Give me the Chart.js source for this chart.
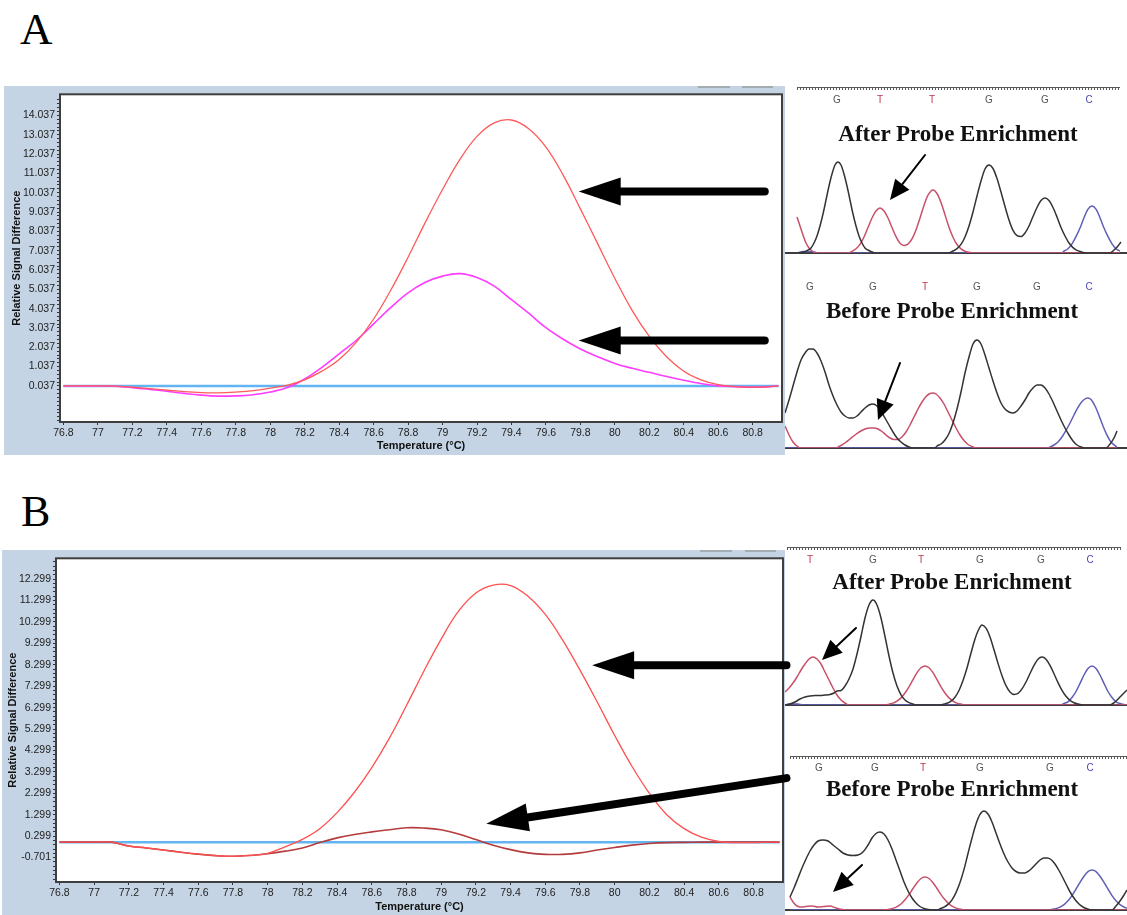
<!DOCTYPE html>
<html>
<head>
<meta charset="utf-8">
<script src="https://cdn.jsdelivr.net/npm/chart.js@4.4.0/dist/chart.umd.min.js"></script>
<style>
  body { margin: 0; width: 1127px; height: 915px; background: #fff; position: relative; overflow: hidden; }
  canvas { position: absolute; }
  .lbl { position: absolute; font-family: 'Liberation Serif', 'Times New Roman', serif; line-height: 1; color: #000; }
  .ttl { position: absolute; font: bold 23px 'Liberation Serif', 'Times New Roman', serif; line-height: 1; color: #111; white-space: nowrap; transform: translateX(-50%); }
  .tab { position: absolute; height: 2px; background: #a3abb3; }
</style>
</head>
<body>
<div class="lbl" style="left:20px;top:7px;font-size:45px;">A</div>
<div class="lbl" style="left:21px;top:490px;font-size:44px;">B</div>

<canvas id="meltA" width="781" height="369" style="left:4px;top:86px;"></canvas>
<canvas id="meltB" width="790" height="365" style="left:2px;top:550px;"></canvas>
<div class="tab" style="left:698px;top:86px;width:32px;"></div>
<div class="tab" style="left:742px;top:86px;width:31px;"></div>
<div class="tab" style="left:700px;top:550px;width:32px;"></div>
<div class="tab" style="left:745px;top:550px;width:31px;"></div>

<canvas id="seqAfterA" width="342" height="173" style="left:785px;top:82px;"></canvas>
<canvas id="seqBeforeA" width="342" height="181" style="left:785px;top:269px;"></canvas>
<canvas id="seqAfterB" width="342" height="165" style="left:785px;top:542px;"></canvas>
<canvas id="seqBeforeB" width="342" height="162" style="left:785px;top:750px;"></canvas>

<div class="ttl" style="left:958px;top:122px;">After Probe Enrichment</div>
<div class="ttl" style="left:952px;top:299px;">Before Probe Enrichment</div>
<div class="ttl" style="left:952px;top:570px;">After Probe Enrichment</div>
<div class="ttl" style="left:952px;top:777px;">Before Probe Enrichment</div>

<script>
// ---- melt curve data (temperature in °C, relative signal difference) ----
const temps = [76.8, 76.9, 77.0, 77.1, 77.2, 77.3, 77.4, 77.5, 77.6, 77.7,
  77.8, 77.9, 78.0, 78.1, 78.2, 78.3, 78.4, 78.5, 78.6, 78.7,
  78.8, 78.9, 79.0, 79.1, 79.2, 79.3, 79.4, 79.5, 79.6, 79.7,
  79.8, 79.9, 80.0, 80.1, 80.2, 80.3, 80.4, 80.5, 80.6, 80.7,
  80.8, 80.9, 80.95];

const redA = [0.037, 0.037, 0.037, 0.03, -0.03, -0.10, -0.18, -0.26, -0.31, -0.32,
  -0.28, -0.21, -0.08, 0.08, 0.35, 0.8, 1.4, 2.3, 3.5, 5.0,
  6.7, 8.5, 10.2, 11.75, 12.95, 13.65, 13.8, 13.35, 12.4, 10.95,
  9.2, 7.4, 5.6, 3.95, 2.6, 1.55, 0.8, 0.35, 0.1, 0.0,
  -0.03, 0.0, 0.05];

const magentaA = [0.037, 0.037, 0.037, 0.02, -0.05, -0.14, -0.24, -0.35, -0.44, -0.49,
  -0.48, -0.42, -0.28, -0.05, 0.4, 1.0, 1.7, 2.4, 3.25, 4.1,
  4.85, 5.4, 5.72, 5.85, 5.65, 5.2, 4.5, 3.8, 3.05, 2.45,
  1.95, 1.55, 1.2, 0.95, 0.74, 0.52, 0.33, 0.16, 0.04, 0.0,
  -0.03, 0.0, 0.05];

const redB = [0.02, 0.02, 0.02, 0.02, -0.16, -0.25, -0.35, -0.45, -0.54, -0.61,
  -0.64, -0.6, -0.5, -0.2, 0.15, 0.65, 1.4, 2.35, 3.5, 4.85,
  6.4, 8.0, 9.5, 10.8, 11.65, 12.02, 12.0, 11.5, 10.65, 9.45,
  8.05, 6.55, 5.0, 3.55, 2.3, 1.3, 0.65, 0.25, 0.05, 0.0,
  0.0, 0.02, 0.02];

const darkRedB = [0.02, 0.02, 0.02, 0.02, -0.16, -0.25, -0.35, -0.45, -0.54, -0.61,
  -0.64, -0.6, -0.52, -0.4, -0.25, 0.0, 0.22, 0.38, 0.5, 0.6,
  0.69, 0.68, 0.6, 0.4, 0.14, -0.12, -0.33, -0.48, -0.55, -0.55,
  -0.48, -0.35, -0.23, -0.12, -0.04, 0.0, 0.01, 0.02, 0.02, 0.02,
  0.02, 0.02, 0.02];

const baseLineA = 0.037;
const baseLineB = 0.02;

const xTicks = [76.8, 77, 77.2, 77.4, 77.6, 77.8, 78, 78.2, 78.4, 78.6, 78.8,
  79, 79.2, 79.4, 79.6, 79.8, 80, 80.2, 80.4, 80.6, 80.8];
const yTicksA = [0.037, 1.037, 2.037, 3.037, 4.037, 5.037, 6.037, 7.037,
  8.037, 9.037, 10.037, 11.037, 12.037, 13.037, 14.037];
const yTicksB = [-0.701, 0.299, 1.299, 2.299, 3.299, 4.299, 5.299, 6.299,
  7.299, 8.299, 9.299, 10.299, 11.299, 12.299];

// arrows pointing at the curves (data coordinates)
const arrowsA = [
  { x1: 80.87, y1: 10.1, x2: 79.79, y2: 10.1 },
  { x1: 80.87, y1: 2.39, x2: 79.79, y2: 2.39 }
];
const arrowsB = [
  { x1: 80.99, y1: 8.28, x2: 79.87, y2: 8.28 },
  { x1: 80.99, y1: 3.01, x2: 79.26, y2: 0.88 }
];

// ---- sequencing traces: [scan position, signal] ----
const afterA_black = [[797,0],[804,1],[808,3],[811,5],[814,10],[817,17],[820,27],[823,39],[826,53],[829,67],
  [832,79],[835,88],[838,91],[841,88],[844,79],[847,67],[850,53],[853,39],[856,27],[859,17],[862,10],
  [865,5],[868,3],[872,1],[876,0],[948,0],[953,2],[957,4.3],[961,8.6],[965,16],[969,27],[973,41],[977,57],
  [981,72],[985,84],[989,88],[993,84.5],[997,74.5],[1001,61],[1005,46.5],[1009,33],[1013,22.6],[1017,17.3],
  [1021,16.4],[1025,20],[1029,27],[1033,36.5],[1037,45.5],[1041,52.5],[1045,55],[1049,52.5],[1053,45.5],
  [1057,36],[1061,25.5],[1065,17],[1069,10],[1073,5.4],[1077,2.6],[1081,1.2],[1086,0],[1110,0],[1114,3],
  [1118,7],[1121,11]];
const afterA_red = [[797,36],[800,27],[803,18],[806,10],[809,5],[812,2],[816,0],[848,0],[852,1.7],[856,4.2],
  [860,8.6],[864,16],[868,25.5],[872,35],[876,42],[880,45],[884,42],[888,35],[892,25.5],[896,16.3],
  [900,9.8],[904,7.6],[908,8.9],[912,14.1],[916,23.1],[920,35],[924,47.6],[928,57.8],[933,63],[937,59.5],
  [941,50.5],[945,38.2],[949,25.7],[953,15.8],[957,8.5],[961,4.1],[965,1.8],[969,0.7],[974,0],[1120,0]];
const afterA_blue = [[797,0],[803,1.5],[812,1.5],[818,0],[1062,0],[1064,1.8],[1068,4.3],[1072,9.2],
  [1076,16.3],[1080,25],[1084,35.3],[1088,43.9],[1092,47],[1096,43.9],[1100,35.3],[1104,25],[1108,16.3],
  [1112,9.2],[1116,4.3],[1120,1.8]];

const beforeA_black = [[785,35],[789,48],[793,62],[797,76],[801,88],[805,95],[809,99],[813,99],[817,95],
  [821,87],[825,76],[829,63],[833,52],[837,43],[841,36],[845,32],[849,30],[853,30],[857,32],[861,36],
  [865,40],[869,43],[873,44],[877,42],[881,37],[885,30],[889,23],[893,16],[897,10],[901,6],[905,3],
  [909,1],[913,0],[935,0],[937,2],[941,4],[945,8],[949,14.5],[953,25],[957,39],[961,56],[965,75],[969,91],
  [973,104],[977,108],[981,104],[985,93],[989,80],[993,67],[997,55],[1001,45],[1005,39],[1009,36],
  [1013,35],[1017,37],[1021,42],[1025,48],[1029,55],[1033,60],[1037,63],[1041,63],[1045,60],[1049,54],
  [1053,46],[1057,37],[1061,28],[1065,20],[1069,13],[1073,7],[1077,3],[1081,1],[1085,0],[1106,0],
  [1110,4],[1114,10],[1117,17]];
const beforeA_red = [[785,22],[789,13],[793,6],[797,2],[801,0],[835,0],[840,2],[845,5],[850,9],[855,13],
  [860,16.5],[865,19],[870,20],[874,20],[878,19],[882,16.5],[886,13],[890,10],[894,8.5],[898,8.5],
  [902,11],[906,16],[910,23],[914,31],[918,39],[922,46],[926,51.5],[930,54.5],[933,55],[936,54],
  [940,50],[944,44],[948,36],[952,28],[956,20],[960,13],[964,7.5],[968,3.5],[972,1.5],[976,0],[1117,0]];
const beforeA_blue = [[785,0],[1048,0],[1050,1],[1054,3],[1058,6],[1062,11],[1066,17.6],[1070,25],
  [1074,33],[1078,40.6],[1082,46.5],[1086,49.6],[1088,50],[1091,48.5],[1095,42],[1099,32.5],[1103,22],
  [1107,12.8],[1111,6],[1115,2.4],[1117,1]];

const afterB_black = [[785,0],[790,1],[795,3],[800,6],[805,8],[810,9],[815,9.5],[820,9.5],[825,10],
  [830,10.5],[834,12],[837,14],[841,14.5],[845,19],[849,26],[853,36],[857,51],[861,68.5],[865,87],
  [869,100],[873,105],[877,100],[881,87],[885,68.5],[889,49],[893,32],[897,19],[901,10.2],[905,5],
  [909,2.3],[913,1],[917,0],[941,0],[943,0.7],[947,1.7],[951,3.9],[955,7.8],[959,14.5],[963,24.5],
  [967,37],[971,52],[975,66],[978,74],[982,80],[986,76.8],[990,68],[994,55.2],[998,41.6],[1002,29.3],
  [1006,19.4],[1010,13.1],[1014,10.6],[1018,11.6],[1022,16.1],[1026,23],[1030,31.5],[1034,39.6],
  [1038,45.8],[1042,48],[1046,45.8],[1050,39.6],[1054,31.3],[1058,22.4],[1062,14.7],[1066,8.7],
  [1070,4.7],[1074,2.3],[1078,1],[1083,0],[1110,0],[1115,3],[1120,8],[1127,15]];
const afterB_red = [[785,13],[789,17],[793,22],[797,28],[801,35],[805,41],[809,46],[813,48],[817,46],
  [821,41],[825,33],[829,25],[833,17],[837,10],[841,5],[845,2],[849,0],[886,0],[889,0.9],[893,1.9],
  [897,3.9],[901,7.1],[905,12],[909,18.2],[913,25.4],[917,32.3],[921,37.2],[925,39],[929,37.2],
  [933,32.3],[937,25.4],[941,18.2],[945,12],[949,7.1],[953,3.9],[957,1.9],[961,0.9],[966,0],[1127,0]];
const afterB_blue = [[785,0],[790,1],[798,1],[803,0],[1060,0],[1064,1.5],[1068,3.2],[1072,7.5],[1076,13.5],
  [1080,21.6],[1084,30],[1088,36.5],[1092,39],[1096,36.5],[1100,30],[1104,21.6],[1108,13.5],[1112,7.5],
  [1116,3.2],[1120,1.5],[1124,0.5],[1127,0]];

const beforeB_black = [[790,13],[794,22],[798,32],[802,42],[806,51],[810,59],[814,65],[818,69],[823,70],
  [828,69],[833,65],[838,61],[843,57],[848,55],[853,54.5],[858,55],[863,58],[868,65],[872,72],[876,76.5],
  [880,78],[884,76],[888,70],[892,61],[896,50],[900,39],[904,28],[908,19],[912,12],[916,7],[920,3.5],
  [924,1.5],[928,0.5],[932,0],[938,0],[940,1.3],[944,2.9],[948,5.6],[952,10.2],[956,17.4],[960,27.4],
  [964,40.6],[968,56.5],[972,72],[976,86],[980,95.6],[984,99],[988,96],[992,88],[996,77],[1000,66],
  [1004,56],[1008,48],[1012,42],[1016,38.5],[1020,37],[1025,37],[1030,40],[1035,45],[1040,50],[1044,52],
  [1047,52],[1051,50.5],[1055,46],[1059,39.5],[1063,32],[1067,24],[1071,16.5],[1075,10.5],[1079,6],
  [1083,3],[1087,1.2],[1092,0],[1112,0],[1116,4],[1120,9],[1124,15],[1127,20]];
const beforeB_red = [[790,13],[793,8],[797,4],[801,3],[806,3.5],[812,4],[818,3],[824,3.5],[830,4],[836,2],
  [842,0.5],[846,0],[886,0],[889,0.7],[893,1.6],[897,3.3],[901,6],[905,10.2],[909,15.4],[913,21.5],
  [917,27.3],[921,31.5],[925,33],[929,31.5],[933,27.3],[937,21.5],[941,15.4],[945,10.2],[949,6],
  [953,3.3],[957,1.6],[961,0.7],[966,0],[1127,0]];
const beforeB_blue = [[790,0],[1050,0],[1052,0.7],[1056,1.4],[1060,2.9],[1064,5.4],[1068,9.2],[1072,14.4],
  [1076,20.9],[1080,27.7],[1084,33.8],[1088,38.4],[1092,40],[1096,38.4],[1100,33.8],[1104,27.7],
  [1108,20.9],[1112,14.4],[1116,9.2],[1120,5.4],[1124,2.9],[1127,1.8]];

// base calls and their scan positions
const lettersAfterA = ['G', 'T', 'T', 'G', 'G', 'C'];
const posAfterA = [837, 880, 932, 989, 1045, 1089];
const lettersBeforeA = ['G', 'G', 'T', 'G', 'G', 'C'];
const posBeforeA = [810, 873, 925, 977, 1037, 1089];
const lettersAfterB = ['T', 'G', 'T', 'G', 'G', 'C'];
const posAfterB = [810, 873, 921, 980, 1041, 1090];
const lettersBeforeB = ['G', 'G', 'T', 'G', 'G', 'C'];
const posBeforeB = [819, 875, 923, 980, 1050, 1090];

const baseColors = { G: '#555555', T: '#c2384f', C: '#4a4ab2', A: '#2a8a2a' };

const tickFont = "'Liberation Sans', Arial, sans-serif";

function drawArrow(ctx, x1, y1, x2, y2, lw, hl, hw) {
    const a = Math.atan2(y2 - y1, x2 - x1);
    const bx = x2 - hl * Math.cos(a);
    const by = y2 - hl * Math.sin(a);
    ctx.save();
    ctx.strokeStyle = '#000';
    ctx.fillStyle = '#000';
    ctx.lineWidth = lw;
    ctx.lineCap = 'round';
    ctx.beginPath();
    ctx.moveTo(x1, y1);
    ctx.lineTo(bx + 2 * Math.cos(a), by + 2 * Math.sin(a));
    ctx.stroke();
    ctx.beginPath();
    ctx.moveTo(x2, y2);
    ctx.lineTo(bx + hw * Math.sin(a), by - hw * Math.cos(a));
    ctx.lineTo(bx - hw * Math.sin(a), by + hw * Math.cos(a));
    ctx.closePath();
    ctx.fill();
    ctx.restore();
}

// panel background, framed plot area and the big arrows
const meltDeco = {
    id: 'meltDeco',
    beforeDraw(chart, args, opts) {
        const { ctx, chartArea: ca } = chart;
        ctx.save();
        ctx.fillStyle = '#c4d4e4';
        ctx.fillRect(0, 0, opts.bgWidth, chart.height);
        ctx.fillStyle = '#ffffff';
        ctx.fillRect(ca.left, ca.top, ca.right - ca.left, ca.bottom - ca.top);
        ctx.restore();
    },
    afterDraw(chart, args, opts) {
        const { ctx, chartArea: ca, scales } = chart;
        ctx.save();
        ctx.strokeStyle = '#3f3f3f';
        ctx.lineWidth = 2;
        ctx.strokeRect(ca.left, ca.top, ca.right - ca.left, ca.bottom - ca.top);
        ctx.restore();
        opts.arrows.forEach(ar => {
            drawArrow(ctx, scales.x.getPixelForValue(ar.x1), scales.y.getPixelForValue(ar.y1),
                scales.x.getPixelForValue(ar.x2), scales.y.getPixelForValue(ar.y2), 8, 42, 14);
        });
    }
};

function curve(values, color, width) {
    return {
        data: temps.map((t, i) => ({ x: t, y: values[i] })),
        borderColor: color,
        borderWidth: width,
        pointRadius: 0,
        tension: 0.4,
        fill: false
    };
}

function meltChart(id, cfg) {
    const yMajor = cfg.yTicks;
    new Chart(document.getElementById(id), {
        type: 'line',
        data: { datasets: cfg.datasets },
        options: {
            responsive: false,
            animation: false,
            devicePixelRatio: 1,
            layout: { padding: { top: cfg.padTop, right: cfg.padRight, bottom: 0, left: 0 } },
            plugins: {
                legend: { display: false },
                tooltip: { enabled: false },
                meltDeco: { bgWidth: cfg.bgWidth, arrows: cfg.arrows }
            },
            scales: {
                x: {
                    type: 'linear',
                    min: 76.78,
                    max: 80.97,
                    afterBuildTicks: s => { s.ticks = xTicks.map(v => ({ value: v })); },
                    afterFit: s => { s.height = 33; },
                    ticks: {
                        autoSkip: false, maxRotation: 0, padding: 2, color: '#222',
                        font: { family: tickFont, size: 10.5 },
                        callback: v => String(Number(v.toFixed(1)))
                    },
                    grid: { drawOnChartArea: false, drawTicks: true, tickLength: 3, color: '#333' },
                    border: { display: false },
                    title: {
                        display: true, text: 'Temperature (°C)', color: '#111',
                        font: { family: "'Liberation Sans', Arial, sans-serif", size: 11, weight: 'bold' },
                        padding: { top: 0, bottom: cfg.xTitlePad }
                    }
                },
                y: {
                    type: 'linear',
                    min: cfg.yMin,
                    max: cfg.yMax,
                    afterBuildTicks: s => {
                        const t = [];
                        yMajor.forEach(v => {
                            t.push({ value: v, lab: true });
                            for (let k = 1; k < 5; k++) t.push({ value: v + k * 0.2, lab: false });
                        });
                        for (let k = 1; k < 10; k++) t.unshift({ value: yMajor[0] - k * 0.2, lab: false });
                        s.ticks = t.filter(o => o.value >= cfg.yMin && o.value <= cfg.yMax)
                            .sort((a, b) => a.value - b.value);
                    },
                    afterFit: s => { s.width = cfg.yWidth; },
                    ticks: {
                        autoSkip: false, padding: 2, color: '#222',
                        font: { family: tickFont, size: 10.5 },
                        callback: (v, i, ticks) => ticks[i].lab ? v.toFixed(3) : ''
                    },
                    grid: { drawOnChartArea: false, drawTicks: true, tickLength: 3, color: '#333' },
                    border: { display: false },
                    title: {
                        display: true, text: 'Relative Signal Difference', color: '#111',
                        font: { family: "'Liberation Sans', Arial, sans-serif", size: 11, weight: 'bold' },
                        padding: { top: cfg.yTitlePad, bottom: 0 }
                    }
                }
            }
        },
        plugins: [meltDeco]
    });
}

meltChart('meltA', {
    datasets: [
        curve(redA, '#ff5a5a', 1.3),
        curve(magentaA, '#ff3cff', 1.6),
        { data: [{ x: 76.8, y: baseLineA }, { x: 80.95, y: baseLineA }], borderColor: '#62b4f2', borderWidth: 2.5, pointRadius: 0 }
    ],
    yTicks: yTicksA, yMin: -1.83, yMax: 15.13, yWidth: 56,
    padTop: 6, padRight: 3, bgWidth: 781,
    xTitlePad: 2, yTitlePad: 6, arrows: arrowsA
});

meltChart('meltB', {
    datasets: [
        curve(redB, '#ff5050', 1.3),
        curve(darkRedB, '#b43c3c', 1.6),
        { data: [{ x: 76.8, y: baseLineB }, { x: 80.95, y: baseLineB }], borderColor: '#62b4f2', borderWidth: 2.5, pointRadius: 0 }
    ],
    yTicks: yTicksB, yMin: -1.84, yMax: 13.27, yWidth: 54,
    padTop: 5, padRight: 9, bgWidth: 783,
    xTitlePad: 1.5, yTitlePad: 4, arrows: arrowsB
});

// ruler line above the base calls and the small arrows on the traces
const seqDeco = {
    id: 'seqDeco',
    afterDraw(chart, args, opts) {
        const { ctx, scales } = chart;
        if (opts.ruler) {
            const r = opts.ruler;
            const x1 = scales.x.getPixelForValue(r.from);
            const x2 = scales.x.getPixelForValue(r.to);
            ctx.save();
            ctx.strokeStyle = '#5a5a5a';
            ctx.lineWidth = 1;
            ctx.beginPath();
            ctx.moveTo(x1, r.y + 0.5);
            ctx.lineTo(x2, r.y + 0.5);
            for (let x = x1; x <= x2; x += 3) {
                ctx.moveTo(Math.round(x) + 0.5, r.y);
                ctx.lineTo(Math.round(x) + 0.5, r.y + 3);
            }
            ctx.stroke();
            ctx.restore();
        }
        (opts.arrows || []).forEach(ar => {
            drawArrow(ctx, scales.x.getPixelForValue(ar.x1), scales.y.getPixelForValue(ar.y1),
                scales.x.getPixelForValue(ar.x2), scales.y.getPixelForValue(ar.y2), 2, 20, 9);
        });
    }
};

function trace(points, color) {
    return {
        data: points.map(p => ({ x: p[0], y: p[1] })),
        borderColor: color,
        borderWidth: 1.5,
        pointRadius: 0,
        cubicInterpolationMode: 'monotone',
        fill: false
    };
}

function seqChart(id, cfg) {
    new Chart(document.getElementById(id), {
        type: 'line',
        data: {
            datasets: [
                trace(cfg.black, '#333333'),
                trace(cfg.red, '#c8506a'),
                trace(cfg.blue, '#5f5fb6')
            ]
        },
        options: {
            responsive: false,
            animation: false,
            devicePixelRatio: 1,
            layout: { padding: { top: 9, bottom: 2, left: 0, right: 0 } },
            plugins: {
                legend: { display: false },
                tooltip: { enabled: false },
                seqDeco: { ruler: cfg.ruler, arrows: cfg.arrows }
            },
            scales: {
                x: {
                    type: 'linear',
                    position: 'top',
                    min: 785,
                    max: 1127,
                    afterBuildTicks: s => { s.ticks = cfg.pos.map(v => ({ value: v })); },
                    afterFit: s => { s.height = 18; },
                    ticks: {
                        autoSkip: false, maxRotation: 0, padding: 3,
                        font: { family: "'Liberation Sans', Arial, sans-serif", size: 10 },
                        color: c => baseColors[cfg.letters[c.index]] || '#555',
                        callback: (v, i) => cfg.letters[i]
                    },
                    grid: { display: false, drawTicks: false },
                    border: { display: false }
                },
                xb: {
                    type: 'linear',
                    position: 'bottom',
                    min: 785,
                    max: 1127,
                    afterFit: s => { s.height = 0; },
                    ticks: { display: false },
                    grid: { display: false, drawTicks: false },
                    border: { display: true, color: '#3c3c3c', width: 2 }
                },
                y: { display: false, min: 0, max: cfg.yMax }
            }
        },
        plugins: [seqDeco]
    });
}

seqChart('seqAfterA', {
    black: afterA_black, red: afterA_red, blue: afterA_blue,
    letters: lettersAfterA, pos: posAfterA, yMax: 144,
    ruler: { y: 5, from: 797, to: 1120 },
    arrows: [{ x1: 925, y1: 98, x2: 890, y2: 53 }]
});
seqChart('seqBeforeA', {
    black: beforeA_black, red: beforeA_red, blue: beforeA_blue,
    letters: lettersBeforeA, pos: posBeforeA, yMax: 152,
    arrows: [{ x1: 900, y1: 85, x2: 878, y2: 28 }]
});
seqChart('seqAfterB', {
    black: afterB_black, red: afterB_red, blue: afterB_blue,
    letters: lettersAfterB, pos: posAfterB, yMax: 136,
    ruler: { y: 5, from: 787, to: 1120 },
    arrows: [{ x1: 856, y1: 77, x2: 822, y2: 45 }]
});
seqChart('seqBeforeB', {
    black: beforeB_black, red: beforeB_red, blue: beforeB_blue,
    letters: lettersBeforeB, pos: posBeforeB, yMax: 133,
    ruler: { y: 6, from: 790, to: 1127 },
    arrows: [{ x1: 862, y1: 45, x2: 833, y2: 18 }]
});
</script>
</body>
</html>
